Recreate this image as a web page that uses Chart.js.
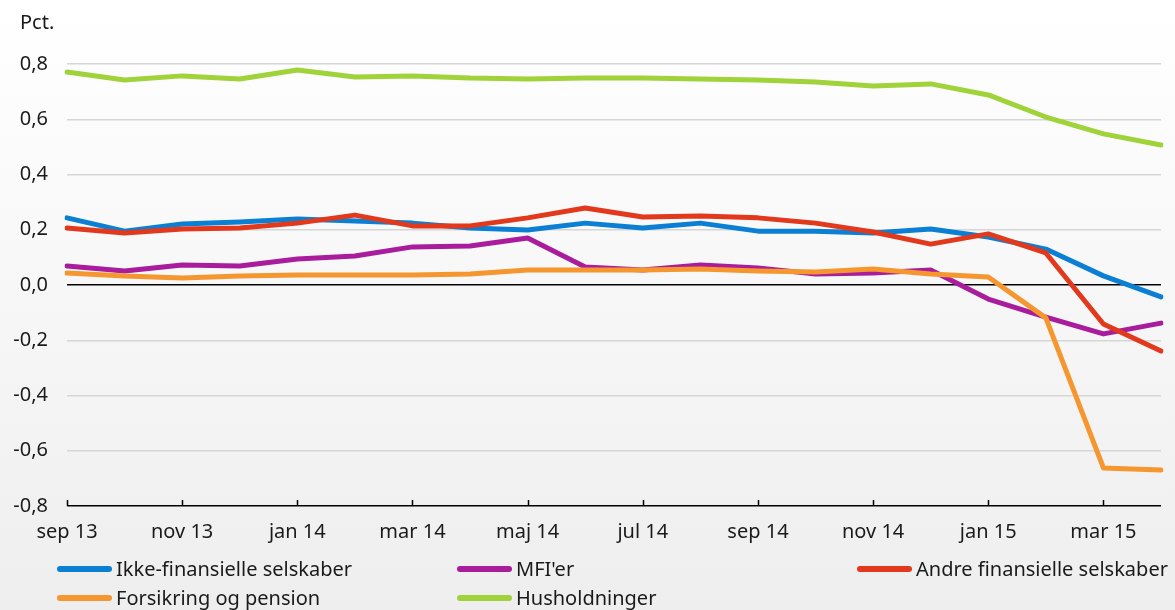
<!DOCTYPE html>
<html>
<head>
<meta charset="utf-8">
<script src="https://cdn.jsdelivr.net/npm/chart.js@4"></script>
<style>
  html, body { margin: 0; padding: 0; }
  body {
    width: 1175px; height: 610px; overflow: hidden;
    background: linear-gradient(#ffffff, #eeeeee);
    font-family: "Noto Sans", sans-serif; color: #1a1a1a;
  }
  #wrap { position: relative; width: 1175px; height: 610px; }
  #unit { position: absolute; left: 20px; top: 8px; font-size: 20px; }
  .leg { position: absolute; display: flex; align-items: center; font-size: 20px; line-height: 27px; white-space: nowrap; }
  .leg span.sw { display: inline-block; width: 55px; height: 6px; border-radius: 3px; margin-right: 4px; }
</style>
</head>
<body>
<div id="wrap">
  <canvas id="chart" width="1175" height="610"></canvas>
  <div id="unit">Pct.</div>
  <div id="legend"></div>
</div>
<script>
// months sep 13 - apr 15
const months = ['sep 13', 'okt 13', 'nov 13', 'dec 13', 'jan 14', 'feb 14', 'mar 14', 'apr 14', 'maj 14', 'jun 14',
    'jul 14', 'aug 14', 'sep 14', 'okt 14', 'nov 14', 'dec 14', 'jan 15', 'feb 15', 'mar 15', 'apr 15'];

const ikkeFinansielle = [0.243, 0.195, 0.221, 0.228, 0.239, 0.232, 0.224, 0.206, 0.199, 0.224,
    0.206, 0.224, 0.195, 0.195, 0.188, 0.203, 0.174, 0.130, 0.033, -0.043];
const mfier = [0.069, 0.051, 0.072, 0.069, 0.094, 0.105, 0.138, 0.141, 0.170, 0.065,
    0.054, 0.072, 0.062, 0.040, 0.043, 0.054, -0.051, -0.116, -0.177, -0.138];
const andreFinansielle = [0.206, 0.188, 0.203, 0.206, 0.224, 0.253, 0.214, 0.214, 0.243, 0.279,
    0.246, 0.250, 0.243, 0.224, 0.192, 0.148, 0.185, 0.116, -0.141, -0.239];
const forsikring = [0.043, 0.033, 0.025, 0.033, 0.036, 0.036, 0.036, 0.040, 0.054, 0.054,
    0.054, 0.058, 0.051, 0.047, 0.058, 0.040, 0.029, -0.119, -0.662, -0.670];
const husholdninger = [0.771, 0.742, 0.757, 0.746, 0.778, 0.753, 0.757, 0.749, 0.746, 0.749,
    0.749, 0.746, 0.742, 0.735, 0.720, 0.728, 0.688, 0.608, 0.547, 0.507];

const series = [
    { label: 'Ikke-finansielle selskaber', data: ikkeFinansielle, color: '#0a7fd4', left: 57, top: 555 },
    { label: "MFI'er", data: mfier, color: '#a91d9d', left: 457, top: 555 },
    { label: 'Andre finansielle selskaber', data: andreFinansielle, color: '#e2381b', left: 857, top: 555 },
    { label: 'Forsikring og pension', data: forsikring, color: '#f5962f', left: 57, top: 584 },
    { label: 'Husholdninger', data: husholdninger, color: '#a0d23a', left: 457, top: 584 }
];

// drawing order, last one on top
const drawOrder = [4, 1, 0, 2, 3];

const legendEl = document.getElementById('legend');
series.forEach(s => {
    const d = document.createElement('div');
    d.className = 'leg';
    d.style.left = s.left + 'px';
    d.style.top = s.top + 'px';
    d.innerHTML = `<span class="sw" style="background:${s.color}"></span>${s.label}`;
    legendEl.appendChild(d);
});

// upward tick marks on x axis at labelled months
const xTicks = {
    id: 'xTicks',
    afterDraw(chart) {
        const ctx = chart.ctx, x = chart.scales.x, y = chart.scales.y;
        const base = y.getPixelForValue(-0.8);
        ctx.save();
        ctx.strokeStyle = '#000';
        ctx.lineWidth = 1.5;
        months.forEach((m, i) => {
            if (i % 2) return;
            const px = Math.round(x.getPixelForValue(i)) + 0.5;
            ctx.beginPath();
            ctx.moveTo(px, base);
            ctx.lineTo(px, base - 6);
            ctx.stroke();
        });
        ctx.restore();
    }
};

new Chart(document.getElementById('chart'), {
    type: 'line',
    data: {
        labels: months,
        datasets: drawOrder.map(i => ({
            label: series[i].label,
            data: series[i].data,
            borderColor: series[i].color,
            backgroundColor: series[i].color,
            borderWidth: 5,
            borderCapStyle: 'round',
            borderJoinStyle: 'round',
            pointRadius: 0,
            tension: 0,
            order: drawOrder.length - drawOrder.indexOf(i)
        }))
    },
    options: {
        responsive: false,
        animation: false,
        layout: { padding: { left: 0, right: 10, top: 64, bottom: 0 } },
        plugins: { legend: { display: false }, tooltip: { enabled: false } },
        scales: {
            x: {
                type: 'category',
                offset: false,
                grid: { display: false, drawTicks: false },
                border: { display: false },
                ticks: {
                    autoSkip: false,
                    maxRotation: 0,
                    padding: 14,
                    color: '#1a1a1a',
                    font: { family: 'Noto Sans', size: 20 },
                    callback: (v, i) => (i % 2 === 0 ? months[i] : '')
                },
                afterFit: s => { s.height = 104; }
            },
            y: {
                min: -0.8,
                max: 0.8,
                grid: {
                    drawTicks: false,
                    color: c => (c.tick.value === 0 || c.tick.value === -0.8 ? '#000' : '#d6d6d6'),
                    lineWidth: 1.5
                },
                border: { display: false },
                ticks: {
                    stepSize: 0.2,
                    padding: 19,
                    color: '#1a1a1a',
                    font: { family: 'Noto Sans', size: 20 },
                    callback: v => v.toFixed(1).replace('.', ',').replace('-0,0', '0,0')
                },
                afterFit: s => { s.width = 67; }
            }
        }
    },
    plugins: [xTicks]
});
</script>
</body>
</html>
